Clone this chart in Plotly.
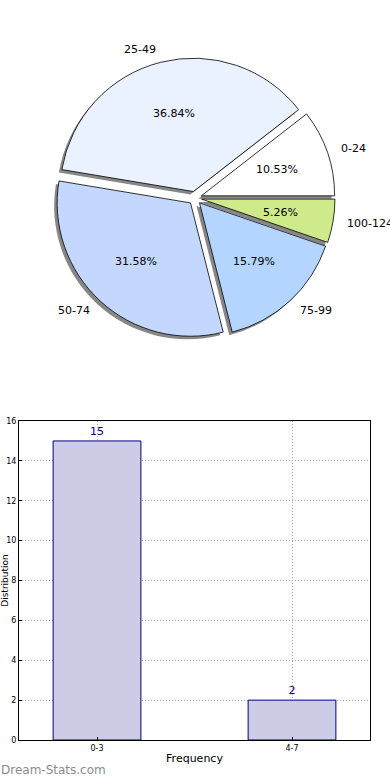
import math
import plotly.graph_objects as go

# ---- data ----
pie_labels = ["0-24", "25-49", "50-74", "75-99", "100-124"]
pie_values = [2, 7, 6, 3, 1]
pie_colors = ["#ffffff", "#eaf1ff", "#c4d8ff", "#b3d5ff", "#cfea8a"]

bar_categories = ["0-3", "4-7"]
bar_values = [15, 2]
y_ticks = [0, 2, 4, 6, 8, 10, 12, 14, 16]

W, H = 390, 780
ML, MR, MT, MB = 19, 20, 20, 40
PW, PH = W - ML - MR, H - MT - MB

def px_x(p):
    return (p - ML) / PW

def px_y(p):
    return (H - MB - p) / PH

total = float(sum(pie_values))
# first slice starts at 3 o'clock going counterclockwise (plotly's ccw rotation
# marks the end of the first slice)
rot = 90 - 360.0 * pie_values[0] / total
explode = 0.05
pull = [explode] * len(pie_values)
cx, cy, R = 195, 198, 140
r = R / (1 + explode)
sh = 3  # shadow offset px

fig = go.Figure()

# shadow pie
fig.add_trace(go.Pie(
    labels=pie_labels, values=pie_values, sort=False,
    direction="counterclockwise", rotation=rot, pull=pull,
    marker=dict(colors=["rgba(105,105,105,0.8)"] * len(pie_values),
                line=dict(width=0)),
    textinfo="none", hoverinfo="skip", showlegend=False,
    domain=dict(x=[px_x(cx - R - sh), px_x(cx + R - sh)],
                y=[px_y(cy + R + sh), px_y(cy - R + sh)]),
))

# main pie
fig.add_trace(go.Pie(
    labels=pie_labels, values=pie_values, sort=False,
    direction="counterclockwise", rotation=rot, pull=pull,
    marker=dict(colors=pie_colors, line=dict(color="#000", width=0.8)),
    textinfo="none", showlegend=False,
    domain=dict(x=[px_x(cx - R), px_x(cx + R)],
                y=[px_y(cy + R), px_y(cy - R)]),
))

# pie texts: labels at 1.1 r, percentages at 0.6 r (plus explode offset)
annotations = []
start = 0.0
for lab, v in zip(pie_labels, pie_values):
    frac = v / total
    mid = math.radians((start + frac / 2) * 360)
    start += frac
    c, s = math.cos(mid), math.sin(mid)
    lx = cx + (1.1 + explode) * r * c
    ly = cy - (1.1 + explode) * r * s
    annotations.append(dict(
        text=lab, xref="paper", yref="paper", x=px_x(lx), y=px_y(ly),
        xanchor="left" if c > 0 else "right", yanchor="middle",
        showarrow=False, borderpad=0,
        font=dict(family="DejaVu Sans", size=11, color="#000"),
    ))
    tx = cx + (0.6 + explode) * r * c
    ty = cy - (0.6 + explode) * r * s
    annotations.append(dict(
        text="%.2f%%" % (frac * 100), xref="paper", yref="paper",
        x=px_x(tx), y=px_y(ty), xanchor="center", yanchor="middle",
        showarrow=False, borderpad=0,
        font=dict(family="DejaVu Sans", size=11, color="#000"),
    ))

# bar chart
fig.add_trace(go.Bar(
    x=bar_categories, y=bar_values, width=0.45,
    marker=dict(color="#ccccE6", line=dict(color="#000080", width=1)),
    text=[str(v) for v in bar_values], textposition="outside",
    textfont=dict(family="DejaVu Sans", size=11, color="#000080"),
    cliponaxis=False, showlegend=False,
))

annotations.append(dict(
    text="Dream-Stats.com", xref="paper", yref="paper",
    x=px_x(0), y=px_y(770), xanchor="left", yanchor="middle",
    showarrow=False, borderpad=0,
    font=dict(family="DejaVu Sans", size=12, color="#8c8c8c"),
))

grid_dash = "1px,2px"
fig.update_layout(
    width=W, height=H,
    margin=dict(l=ML, r=MR, t=MT, b=MB, autoexpand=False),
    paper_bgcolor="white", plot_bgcolor="white",
    font=dict(family="DejaVu Sans", color="#000"),
    xaxis=dict(
        domain=[0, 1], range=[-0.4, 1.4],
        showline=True, linecolor="#000", linewidth=1, mirror=True,
        showgrid=True, gridcolor="#a8a8a8", griddash=grid_dash, gridwidth=1,
        ticks="inside", ticklen=3, tickcolor="#000",
        tickfont=dict(size=8), zeroline=False, automargin=False,
        title=dict(text="Frequency", font=dict(size=11), standoff=2),
    ),
    yaxis=dict(
        domain=[0, px_y(421)], range=[0, 16],
        tickvals=y_ticks,
        showline=True, linecolor="#000", linewidth=1, mirror=True,
        showgrid=True, gridcolor="#a8a8a8", griddash=grid_dash, gridwidth=1,
        ticks="inside", ticklen=3, tickcolor="#000",
        tickfont=dict(size=8), zeroline=False, automargin=False,
        title=dict(text="Distribution", font=dict(size=9), standoff=10),
    ),
    annotations=annotations,
)

fig.write_html("out.html", config={"displayModeBar": False},
               post_script="document.body.style.margin='0';")
